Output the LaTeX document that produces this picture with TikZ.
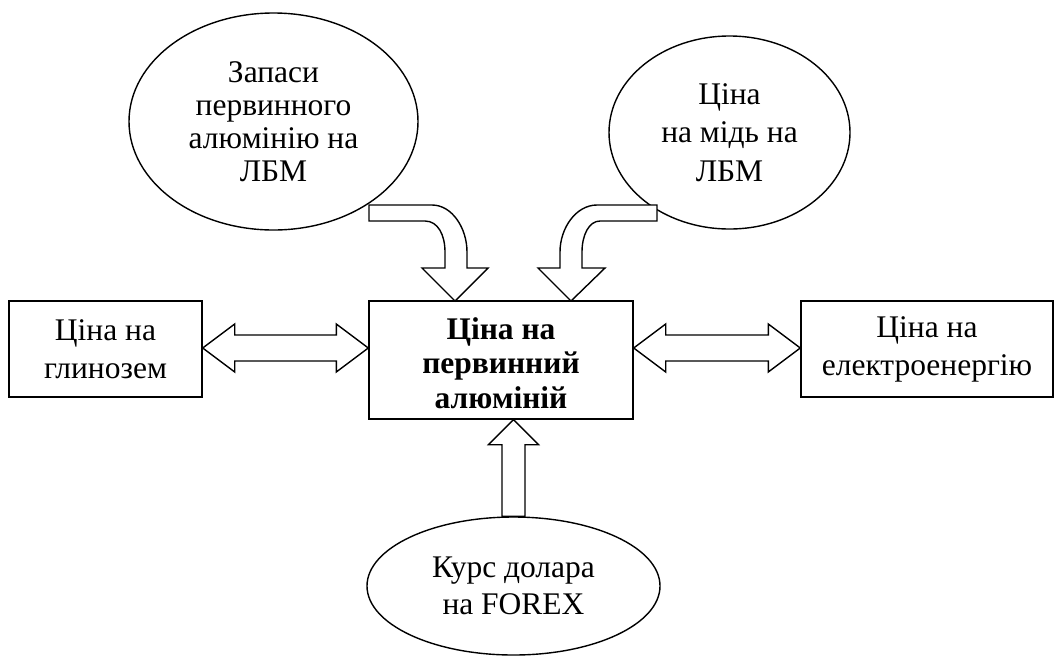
\documentclass[tikz,border=0pt]{standalone}
\usepackage{fontspec}
\setmainfont{Liberation Serif}
\usetikzlibrary{shapes.geometric,calc}
\begin{document}
\begin{tikzpicture}[x=1pt,y=-1pt,
  every node/.style={align=center, inner sep=0pt},
  oval/.style={draw, ellipse, line width=1.4pt},
  box/.style={draw, rectangle, line width=1.4pt},
  blockarrow/.style={draw, fill=white, line width=1.4pt, line join=miter},
]
\useasboundingbox (0,0) rectangle (1056,657);

% factors (ovals) and linked prices (boxes)
\node[oval, minimum width=289pt, minimum height=217pt,
      font=\fontsize{31.5}{33}\selectfont] (stock) at (273.5,121.5)
      {Запаси\\первинного\\алюмінію на\\ЛБМ};
\node[oval, minimum width=241pt, minimum height=193pt,
      font=\fontsize{31.5}{38.5}\selectfont] (copper) at (729.5,132.5)
      {Ціна\\на мідь на\\ЛБМ};
\node[box, minimum width=193pt, minimum height=96pt,
      font=\fontsize{31.5}{38}\selectfont] (alumina) at (105.5,349)
      {Ціна на\\глинозем};
\node[box, minimum width=252pt, minimum height=96pt,
      font=\fontsize{31.5}{38}\selectfont] (power) at (927,349)
      {Ціна на\\електроенергію};
\node[box, minimum width=264pt, minimum height=118pt] (price) at (501,360) {};
\node[font=\fontsize{31.5}{34.5}\selectfont\bfseries] (pricetext)
      at ($(price.center)+(0,3)$) {Ціна на\\первинний\\алюміній};
\node[oval, minimum width=293pt, minimum height=138pt,
      font=\fontsize{31.5}{37}\selectfont] (forex) at (513.5,586)
      {Курс долара\\на FOREX};

% end points of the bent arrows
\coordinate (tailA) at (369,205);
\coordinate (tipA) at (455,301);
\coordinate (tailB) at (657,205);
\coordinate (tipB) at (571,301);

% bent arrow from the aluminium stocks
\draw[blockarrow] (tailA) -- (432,205)
  .. controls (452,205) and (467,228) .. (467,252) -- (467,268) -- (488,268)
  -- (tipA) -- (422,268) -- (445,268) -- (445,252)
  .. controls (445,235) and (438,221) .. (425,221) -- (369,221) -- cycle;

% bent arrow from the copper price
\draw[blockarrow] (tailB) -- (597,205)
  .. controls (576,205) and (560,228) .. (560,252) -- (560,268) -- (538,268)
  -- (tipB) -- (605,268) -- (582,268) -- (582,252)
  .. controls (582,235) and (589,221) .. (600,221) -- (657,221) -- cycle;

% two-way arrow: alumina <-> aluminium
\coordinate (la) at ($(alumina.east)+(0,-1)$);
\coordinate (lb) at (la -| price.west);
\draw[blockarrow] (la) -- ++(32,-24) -- ++(0,11) -- ($(lb)+(-32,-13)$)
  -- ++(0,-11) -- (lb) -- ++(-32,24) -- ++(0,-11) -- ($(la)+(32,13)$)
  -- ++(0,11) -- cycle;

% two-way arrow: aluminium <-> electricity
\coordinate (rb) at ($(power.west)+(0,-1)$);
\coordinate (ra) at (rb -| price.east);
\draw[blockarrow] (ra) -- ++(32,-24) -- ++(0,11) -- ($(rb)+(-32,-13)$)
  -- ++(0,-11) -- (rb) -- ++(-32,24) -- ++(0,-11) -- ($(ra)+(32,13)$)
  -- ++(0,11) -- cycle;

% arrow from the dollar rate up to the aluminium price
\coordinate (ut) at (forex.north |- price.south);
\draw[blockarrow] (ut) -- ++(25,25) -- ++(-13.5,0) -- ($(forex.north)+(11.5,0)$)
  -- ($(forex.north)+(-11.5,0)$) -- ($(ut)+(-11.5,25)$) -- ++(-13.5,0) -- cycle;
\end{tikzpicture}
\end{document}
